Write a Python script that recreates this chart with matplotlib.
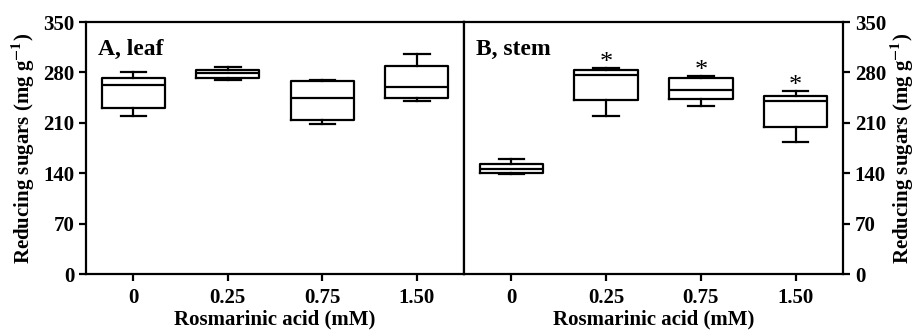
"""Reducing sugars in leaf and stem under rosmarinic acid treatment (box plots)."""

import matplotlib
matplotlib.use("Agg")
import matplotlib.pyplot as plt


plt.rcParams["font.family"] = ["Liberation Serif", "DejaVu Serif"]
plt.rcParams["font.weight"] = "bold"
plt.rcParams["mathtext.fontset"] = "stix"

DOSES = ["0", "0.25", "0.75", "1.50"]
YTICKS = [0, 70, 140, 210, 280, 350]

# leaf: whisker low, q1, median, q3, whisker high
leaf_low = [220, 269, 208, 241]
leaf_q1 = [231, 272, 214, 245]
leaf_med = [262, 279, 245, 260]
leaf_q3 = [273, 284, 268, 289]
leaf_high = [281, 287, 270, 305]

# stem
stem_low = [139, 220, 233, 184]
stem_q1 = [140, 242, 243, 204]
stem_med = [146, 277, 255, 240]
stem_q3 = [153, 284, 272, 248]
stem_high = [160, 286, 275, 254]
stem_signif = [False, True, True, True]

YLABEL = r"Reducing sugars (mg g$^{\mathbf{-1}}$)"
XLABEL = "Rosmarinic acid (mM)"
LW = 1.6


def make_stats(low, q1, med, q3, high):
    return [
        {"whislo": a, "q1": b, "med": c, "q3": d, "whishi": e, "fliers": []}
        for a, b, c, d, e in zip(low, q1, med, q3, high)
    ]


def draw_panel(ax, stats, label):
    line = dict(color="black", linewidth=LW)
    ax.bxp(
        stats,
        positions=range(len(stats)),
        widths=0.67,
        capwidths=0.27,
        showfliers=False,
        boxprops=line,
        medianprops=line,
        whiskerprops=line,
        capprops=line,
    )
    ax.set_xlim(-0.5, 3.5)
    ax.set_ylim(0, 350)
    ax.set_yticks(YTICKS)
    ax.set_xticks(range(len(DOSES)))
    ax.set_xticklabels(DOSES)
    ax.set_xlabel(XLABEL, fontsize=15, fontweight="bold", labelpad=1)
    ax.tick_params(labelsize=15, width=LW, length=5, direction="out")
    ax.tick_params(axis="x", pad=5)
    for s in ax.spines.values():
        s.set_linewidth(LW)
    ax.text(0.032, 0.935, label, transform=ax.transAxes, fontsize=17,
            fontweight="bold", va="top", ha="left")


fig = plt.figure(figsize=(9.19, 3.31), dpi=100)
ax_leaf = fig.add_axes([0.0936, 0.172, 0.4113, 0.7613])
ax_stem = fig.add_axes([0.5049, 0.172, 0.4124, 0.7613])

draw_panel(ax_leaf, make_stats(leaf_low, leaf_q1, leaf_med, leaf_q3, leaf_high), "A, leaf")
ax_leaf.set_ylabel(YLABEL, fontsize=15, fontweight="bold", labelpad=4)

draw_panel(ax_stem, make_stats(stem_low, stem_q1, stem_med, stem_q3, stem_high), "B, stem")
ax_stem.yaxis.tick_right()
ax_stem.yaxis.set_label_position("right")
ax_stem.set_ylabel(YLABEL, fontsize=15, fontweight="bold", labelpad=2)

for i, flag in enumerate(stem_signif):
    if flag:
        ax_stem.annotate("*", (i, stem_high[i]), xytext=(0, -4), textcoords="offset points",
                         ha="center", va="bottom", fontsize=19, fontweight="normal")

fig.savefig("out.png", dpi=100)
